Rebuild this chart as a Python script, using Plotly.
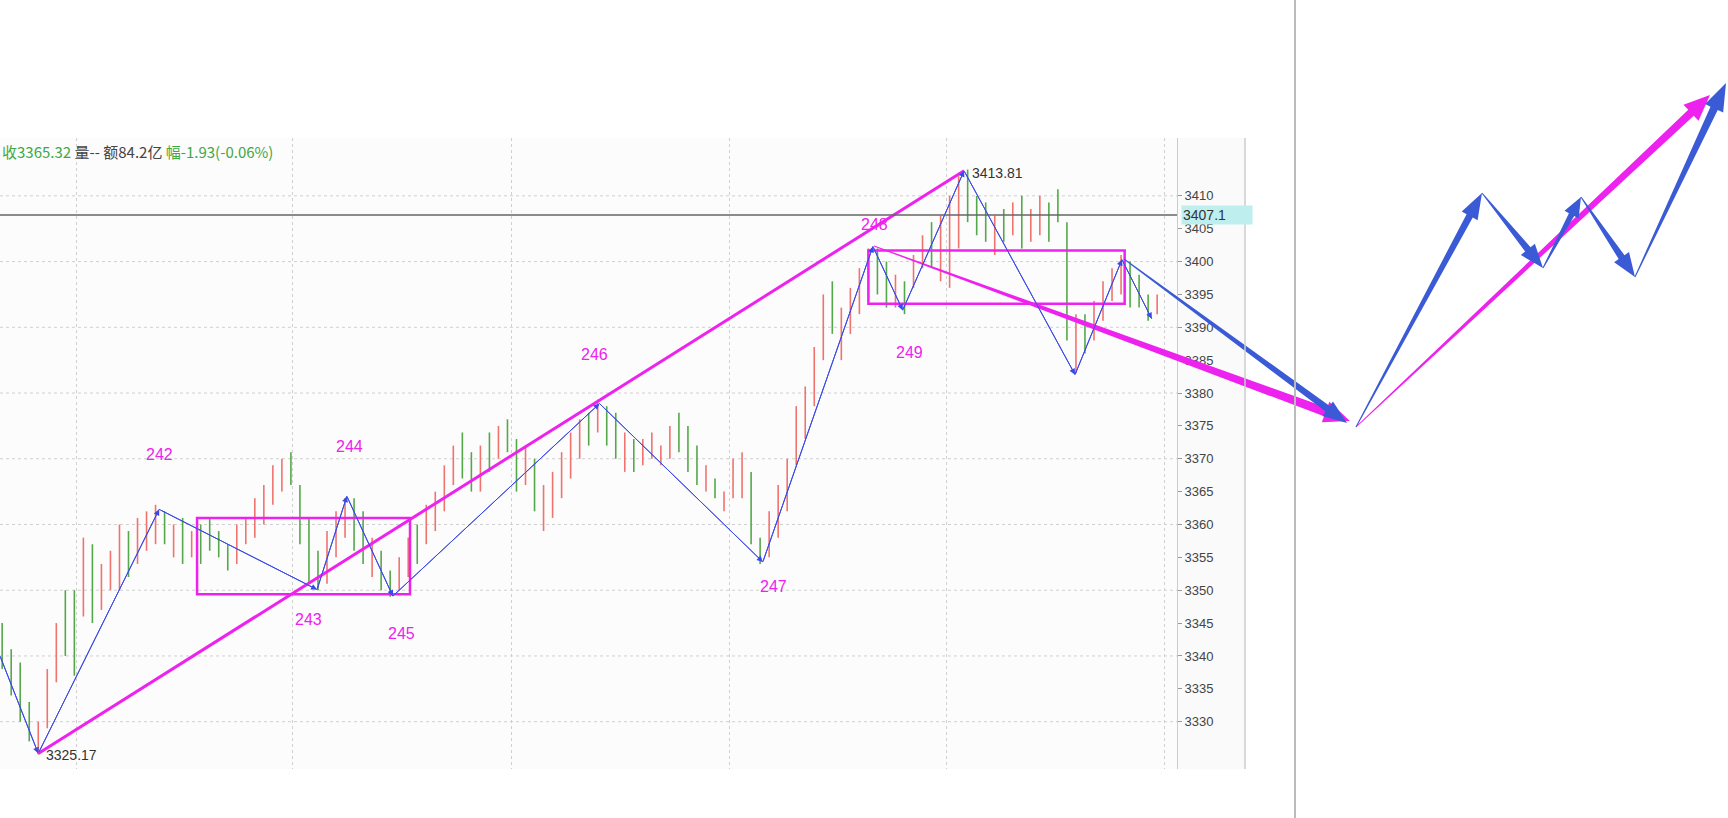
import plotly.graph_objects as go
import numpy as np

W, H = 1728, 818
highs = [3345,3341,3339,3333,3330,
 3338,3345,3350,3350,3358,3357,3354,3356,3360,3359,3361,3362,3363,
 3362,3360,3361,3359,3360,3361,3359,3357,3360,3361,3364,3366,3369,3370,3371,3366,3361,3356,
 3359,3362,3364,
 3364,3362,3358,3356,3353,
 3355,3358,3360,3363,3365,3369,3372,3374,3371,3372,3374,3375,3376,3373,3372,3370,3366,3368,3371,3374,3376,3377,3379,
 3378,3377,3374,3373,3373,3374,3372,3375,3377,3375,3372,3369,3367,3365,3370,3371,3368,3358,
 3362,3366,3370,3378,3381,3387,3395,3397,3393,3396,3399,3402,
 3402,3400,3398,
 3397,3401,3404,3406,3407,3410,3413,3414,
 3410,3409,3407,3408,3409,3410,3408,3410,3409,3411,3406,3392,
 3392,3394,3397,3399,3401,
 3400,3398,3395,3395]
lows = [3338,3334,3330,3327,3325,
 3329,3336,3340,3337,3346,3345,3347,3350,3350,3352,3354,3356,3357,
 3357,3355,3354,3355,3354,3356,3355,3353,3354,3357,3358,3360,3363,3365,3366,3357,3351,3350,
 3351,3355,3358,
 3356,3354,3352,3350,3349,
 3350,3352,3354,3357,3359,3362,3366,3367,3365,3365,3368,3370,3371,3365,3366,3362,3359,3361,3364,3367,3370,3372,3374,
 3372,3370,3368,3368,3369,3370,3369,3370,3371,3368,3366,3365,3364,3362,3364,3364,3357,3354,
 3355,3358,3362,3369,3373,3378,3385,3389,3385,3389,3392,3394,
 3395,3393,3393,
 3392,3396,3399,3399,3397,3396,3402,3406,
 3404,3403,3401,3403,3404,3402,3403,3404,3403,3406,3388,3383,
 3386,3388,3391,3394,3395,
 3393,3393,3391,3392]
dirs = ("ggggr" "rrggrgrrrgrrr" "grgrgggg" "rrrrrrggg" "g" "rrr" "ggrgg"
        "rrgrrrrggrgrggrgrrrrrgr" "ggrgrrrrgggrgrrrgg" "rrrrrrrgrrrr" "ggr"
        "grrgrrrg" "ggrgrgrrggg" "r" "grrrr" "gggr")

piv_x = [-0.24, 4.0, 17.4, 34.9, 38.2, 43.3, 66.2, 84.3, 96.5, 99.8, 106.6, 118.9, 124.1, 127.4]
piv_y = [3340, 3325.17, 3362.3, 3350.1, 3364.3, 3349.1, 3378.4, 3354.3, 3402.3, 3392.6, 3413.81, 3382.8, 3400.3, 3391.3]
wave_labels = ["242", "243", "244", "245", "246", "247", "248", "249"]
wave_x = [17.4, 34.0, 38.5, 44.3, 65.6, 85.5, 96.7, 100.6]
wave_y = [3370.7, 3345.6, 3371.9, 3343.4, 3385.8, 3350.6, 3405.7, 3386.1]
yticks = list(range(3330, 3415, 5))
last_price = 3407.1
header = [("收3365.32 ", "#3fa845"), ("量-- 额84.2亿 ", "#444444"), ("幅-1.93(-0.06%)", "#3fa845")]

RED, GREEN = "#f0736e", "#55a84a"
MAG, BLUE, BLUE2 = "#ee22ee", "#3a4ae6", "#3b5bd6"

fig = go.Figure()
n = len(highs)
xs = list(range(n))
for col, key in ((RED, "r"), (GREEN, "g")):
    bx, by = [], []
    for i in range(n):
        if dirs[i] == key:
            bx += [xs[i], xs[i], None]
            by += [lows[i], highs[i], None]
    fig.add_trace(go.Scatter(x=bx, y=by, mode="lines", line=dict(color=col, width=1.6), hoverinfo="skip"))

fig.add_trace(go.Scatter(x=piv_x, y=piv_y, mode="lines", line=dict(color=BLUE, width=1), hoverinfo="skip"))
for i in range(1, len(piv_x)):
    fig.add_annotation(x=piv_x[i], y=piv_y[i], ax=piv_x[i-1], ay=piv_y[i-1], axref="x", ayref="y",
                       xref="x", yref="y", text="", showarrow=True, arrowhead=2, arrowsize=1.2,
                       arrowwidth=1, arrowcolor=BLUE)

fig.add_trace(go.Scatter(x=[piv_x[1], piv_x[10]], y=[piv_y[1], piv_y[10]], mode="lines",
                         line=dict(color=MAG, width=3), hoverinfo="skip"))
for x0, x1, y0, y1 in ((21.6, 45.2, 3349.4, 3361.0), (96.0, 124.4, 3393.6, 3401.7)):
    fig.add_shape(type="rect", x0=x0, x1=x1, y0=y0, y1=y1, xref="x", yref="y",
                  line=dict(color=MAG, width=2.5))
fig.add_hline(y=last_price, line=dict(color="#666666", width=1.5))

for t, x, y in zip(wave_labels, wave_x, wave_y):
    fig.add_annotation(x=x, y=y, text=t, showarrow=False, font=dict(color=MAG, size=16, family="Liberation Sans"))
fig.add_annotation(x=106.6, y=3413.81, text="3413.81", showarrow=False, xanchor="left", xshift=6, yshift=-2,
                   font=dict(color="#333", size=14, family="Liberation Sans"))
fig.add_annotation(x=4.0, y=3325.17, text="3325.17", showarrow=False, xanchor="left", xshift=6, yshift=-2,
                   font=dict(color="#333", size=14, family="Liberation Sans"))

txt = "".join(f"<span style='color:{c}'>{s}</span>" for s, c in header)
fig.add_annotation(xref="paper", yref="paper", x=0, y=1 - 151 / H, text=txt, showarrow=False,
                   xanchor="left", yanchor="middle", yshift=0, font=dict(size=15, family="Noto Sans CJK SC"))
fig.add_annotation(xref="paper", yref="y", x=1181 / W, y=last_price, text=f"{last_price}", showarrow=False,
                   xanchor="left", bgcolor="#bfeeee", font=dict(size=14, color="#333", family="Liberation Sans"),
                   width=68, align="left")

def tapered(p0, p1, w0, w1, hl, hw):
    p0, p1 = np.array(p0, float), np.array(p1, float)
    d = p1 - p0
    L = np.linalg.norm(d); u = d / L; nrm = np.array([-u[1], u[0]])
    b = p1 - u * hl
    pts = [p0 + nrm * w0 / 2, b + nrm * w1 / 2, b + nrm * hw / 2, p1, b - nrm * hw / 2, b - nrm * w1 / 2, p0 - nrm * w0 / 2]
    return "M " + " L ".join(f"{px / W:.5f},{1 - py / H:.5f}" for px, py in pts) + " Z"

arrows = [
    ((874, 246), (1350, 421), 1, 9, 26, 22, MAG),
    ((1124, 259), (1347, 423), 1, 7, 24, 18, BLUE2),
    ((1356, 427), (1710, 95), 1, 8, 26, 22, MAG),
    ((1356, 427), (1482, 193), 1, 7, 26, 18, BLUE2),
    ((1482, 193), (1543, 268), 1, 7, 24, 18, BLUE2),
    ((1543, 268), (1581, 197), 1, 6, 20, 16, BLUE2),
    ((1581, 197), (1635, 277), 1, 7, 24, 18, BLUE2),
    ((1635, 277), (1726, 83), 1, 8, 28, 20, BLUE2),
]
for p0, p1, w0, w1, hl, hw, c in arrows:
    fig.add_shape(type="path", path=tapered(p0, p1, w0, w1, hl, hw), xref="paper", yref="paper",
                  fillcolor=c, line=dict(width=0), layer="above")

fig.add_shape(type="rect", xref="paper", yref="paper", x0=1177 / W, x1=1245 / W, y0=1 - 769 / H, y1=1 - 138 / H,
              fillcolor="#fafafa", line=dict(width=0), layer="below")
fig.add_shape(type="line", xref="paper", yref="paper", x0=1245 / W, x1=1245 / W, y0=1 - 769 / H, y1=1 - 138 / H,
              line=dict(color="#cccccc", width=1.5))
fig.add_shape(type="line", xref="paper", yref="paper", x0=1295 / W, x1=1295 / W, y0=0, y1=1,
              line=dict(color="#bbbbbb", width=2))

fig.update_layout(
    width=W, height=H, autosize=False, showlegend=False,
    margin=dict(l=0, r=0, t=0, b=0), paper_bgcolor="white", plot_bgcolor="#fcfcfc",
    xaxis=dict(domain=[0, 1177 / W], range=[-0.24, 130.2], showticklabels=False, zeroline=False,
               tickvals=[8.2, 32.2, 56.5, 80.6, 104.6, 128.8], showgrid=True, gridcolor="#d0d0d0", griddash="dot"),
    yaxis=dict(domain=[1 - 769 / H, 1 - 138 / H], range=[3322.8, 3418.8], side="right",
               tickvals=yticks, ticktext=[str(v) for v in yticks], showgrid=False, zeroline=False,
               ticks="outside", ticklen=4, tickcolor="#999", showline=True, linecolor="#cccccc",
               tickfont=dict(size=13, color="#444", family="Liberation Sans")),
)
for v in range(3330, 3420, 10):
    fig.add_hline(y=v, line=dict(color="#d0d0d0", width=1, dash="dot"), layer="below")
fig.write_html("out.html", config={"displayModeBar": False},
               post_script="document.body.style.margin='0';document.body.style.overflow='hidden';")
